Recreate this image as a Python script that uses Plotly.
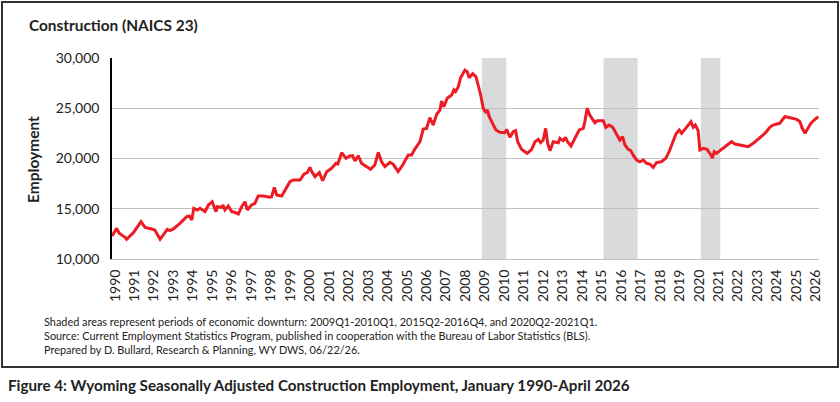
import plotly.graph_objects as go

# Wyoming construction employment (seasonally adjusted)
years = [
    1990.0, 1990.24, 1990.37, 1990.67, 1990.75, 1991.1, 1991.49, 1991.7, 1992.04, 1992.2,
    1992.47, 1992.72, 1992.84, 1992.98, 1993.15, 1993.49, 1993.84, 1993.97, 1994.1, 1994.2,
    1994.38, 1994.52, 1994.78, 1994.95, 1995.15, 1995.34, 1995.41, 1995.63, 1995.7, 1995.8,
    1995.97, 1996.15, 1996.3, 1996.49, 1996.66, 1996.83, 1996.95, 1997.17, 1997.34, 1997.51,
    1997.77, 1998.1, 1998.2, 1998.34, 1998.46, 1998.72, 1998.89, 1999.14, 1999.31, 1999.66,
    1999.86, 2000.03, 2000.17, 2000.26, 2000.43, 2000.65, 2000.82, 2001.03, 2001.28, 2001.5,
    2001.6, 2001.8, 2002.02, 2002.22, 2002.36, 2002.48, 2002.65, 2002.82, 2003.08, 2003.28,
    2003.5, 2003.68, 2003.85, 2004.02, 2004.28, 2004.45, 2004.7, 2004.93, 2005.22, 2005.39,
    2005.56, 2005.82, 2005.99, 2006.16, 2006.33, 2006.5, 2006.68, 2006.85, 2006.93, 2007.05,
    2007.22, 2007.45, 2007.56, 2007.65, 2007.79, 2007.91, 2008.13, 2008.25, 2008.35, 2008.53,
    2008.7, 2008.81, 2008.94, 2009.07, 2009.21, 2009.28, 2009.38, 2009.55, 2009.72, 2009.93,
    2010.18, 2010.27, 2010.44, 2010.61, 2010.73, 2010.84, 2011.04, 2011.21, 2011.33, 2011.56,
    2011.73, 2011.9, 2012.02, 2012.15, 2012.28, 2012.38, 2012.5, 2012.67, 2012.93, 2013.01,
    2013.18, 2013.3, 2013.4, 2013.58, 2013.78, 2014.0, 2014.21, 2014.29, 2014.41, 2014.55,
    2014.69, 2014.81, 2014.93, 2015.24, 2015.37, 2015.54, 2015.72, 2015.92, 2016.09, 2016.23,
    2016.35, 2016.52, 2016.64, 2016.77, 2016.95, 2017.12, 2017.29, 2017.46, 2017.63, 2017.8,
    2017.97, 2018.23, 2018.45, 2018.62, 2018.8, 2018.97, 2019.14, 2019.26, 2019.43, 2019.6,
    2019.74, 2019.86, 2019.97, 2020.11, 2020.2, 2020.37, 2020.57, 2020.77, 2020.84, 2020.94,
    2021.06, 2021.23, 2021.49, 2021.69, 2021.83, 2022.0, 2022.26, 2022.51, 2022.68, 2022.94,
    2023.2, 2023.45, 2023.62, 2023.79, 2023.96, 2024.13, 2024.3, 2024.43, 2024.57, 2024.74,
    2024.95, 2025.17, 2025.34, 2025.46, 2025.6, 2025.73, 2025.9, 2026.07, 2026.28,
]
employment = [
    12290, 13050, 12560, 12160, 11960, 12620, 13710, 13150, 12985, 12880,
    11960, 12720, 12950, 12820, 12990, 13550, 14210, 14280, 13880, 15040,
    14880, 15040, 14710, 15370, 15700, 14710, 15200, 15140, 15370, 14880,
    15270, 14710, 14650, 14480, 15200, 15700, 14880, 15370, 15540, 16270,
    16270, 16140, 16200, 17130, 16370, 16270, 16870, 17690, 17860, 17860,
    18430, 18600, 19120, 18690, 18190, 18590, 17790, 18690, 19020, 19520,
    19450, 20580, 20020, 20250, 20280, 19750, 20280, 19520, 19190, 18920,
    19350, 20610, 19680, 19190, 19620, 19420, 18690, 19350, 20340, 20340,
    20940, 21670, 22930, 23000, 24060, 23330, 24400, 24830, 25720, 25150,
    25990, 26320, 26820, 26650, 27140, 28040, 28800, 28640, 28040, 28450,
    28140, 27410, 26320, 25000, 24560, 24830, 24160, 23500, 22840, 22610,
    22570, 22900, 22110, 22670, 22770, 21670, 20910, 20680, 20520, 20910,
    21670, 21910, 21570, 21840, 23000, 21510, 20780, 21670, 21570, 22010,
    21770, 22110, 21670, 21240, 22010, 22840, 23000, 23660, 25000, 24300,
    23900, 23560, 23760, 23760, 23100, 23330, 23100, 22340, 21840, 22170,
    21340, 20910, 20810, 20350, 19850, 19680, 19850, 19520, 19450, 19120,
    19580, 19680, 20020, 20680, 21510, 22440, 22840, 22510, 22900, 23330,
    23660, 23100, 23330, 22770, 20850, 21010, 20910, 20350, 20020, 20680,
    20520, 20780, 21170, 21510, 21670, 21440, 21340, 21240, 21170, 21510,
    21910, 22340, 22670, 23100, 23330, 23430, 23500, 23830, 24160, 24100,
    24000, 23900, 23660, 23000, 22510, 22900, 23500, 23830, 24160,
]

# downturns: 2009Q1-2010Q1, 2015Q2-2016Q4, 2020Q2-2021Q1
downturn_start = [2009.0, 2015.25, 2020.25]
downturn_end = [2010.25, 2017.0, 2021.25]

tick_years = list(range(1990, 2027))
y_ticks = [10000, 15000, 20000, 25000, 30000]

FONT = "Lato"
W, H = 840, 402
L, T = 112, 58
R, B = W - 819, H - 259
pw, ph = W - L - R, H - T - B


# helpers: pixel -> paper coords
def px_x(x):
    return (x - L) / pw


def px_y(y):
    return (H - B - y) / ph


fig = go.Figure()
fig.add_trace(go.Scatter(x=years, y=employment, mode="lines",
                         line=dict(color="#ED1C24", width=3), showlegend=False))

for s, e in zip(downturn_start, downturn_end):
    fig.add_shape(type="rect", xref="x", yref="paper", x0=s, x1=e, y0=0, y1=1,
                  fillcolor="#D9DADC", line_width=0, layer="below")

# outer frame
fig.add_shape(type="rect", xref="paper", yref="paper",
              x0=px_x(2), x1=px_x(838), y0=px_y(367), y1=px_y(2),
              line=dict(color="#333333", width=2))

fig.update_layout(
    width=W, height=H,
    margin=dict(l=L, r=R, t=T, b=B),
    paper_bgcolor="white", plot_bgcolor="white",
    font=dict(family=FONT, color="#222222"),
    xaxis=dict(range=[1990, 2026.32], tickmode="array", tickvals=tick_years,
               ticktext=[str(y) for y in tick_years], tickangle=-90,
               tickfont=dict(size=14), showgrid=False, zeroline=False,
               showline=True, linecolor="#BFBFBF", linewidth=1,
               ticklabelshift=3, ticklabelstandoff=4),
    yaxis=dict(range=[10000, 30000], tickvals=y_ticks, tickformat=",",
               tickfont=dict(size=14), showgrid=True, gridcolor="#BFBFBF",
               gridwidth=1, zeroline=False, showline=True, linecolor="#000000",
               linewidth=1.5, ticklabelstandoff=8),
)

notes = [
    "Shaded areas represent periods of economic downturn: 2009Q1-2010Q1, 2015Q2-2016Q4, and 2020Q2-2021Q1.",
    "Source: Current Employment Statistics Program, published in cooperation with the Bureau of Labor Statistics (BLS).",
    "Prepared by D. Bullard, Research & Planning, WY DWS, 06/22/26.",
]
for i, txt in enumerate(notes):
    fig.add_annotation(text=txt, xref="paper", yref="paper", x=px_x(42), y=px_y(321 + 14 * i),
                       xanchor="left", yanchor="middle", showarrow=False,
                       font=dict(size=10.9, family=FONT, color="#222222"))

fig.add_annotation(text="<b>Construction (NAICS 23)</b>", xref="paper", yref="paper",
                   x=px_x(27), y=px_y(25), xanchor="left", yanchor="middle", showarrow=False,
                   font=dict(size=15.4, family=FONT, color="#222222"))
fig.add_annotation(text="<b>Employment</b>", xref="paper", yref="paper", textangle=-90,
                   x=px_x(33), y=px_y(160), xanchor="center", yanchor="middle", showarrow=False,
                   font=dict(size=15.5, family=FONT, color="#222222"))
fig.add_annotation(text="<b>Figure 4: Wyoming Seasonally Adjusted Construction Employment, January 1990-April 2026</b>",
                   xref="paper", yref="paper", x=px_x(6), y=px_y(385), xanchor="left", yanchor="middle",
                   showarrow=False, font=dict(size=15.2, family=FONT, color="#222222"))

# drop the default 8px page margin so the figure sits at the window corner
fig.write_html("out.html", config={"displayModeBar": False},
               post_script="document.body.style.margin='0px';")
